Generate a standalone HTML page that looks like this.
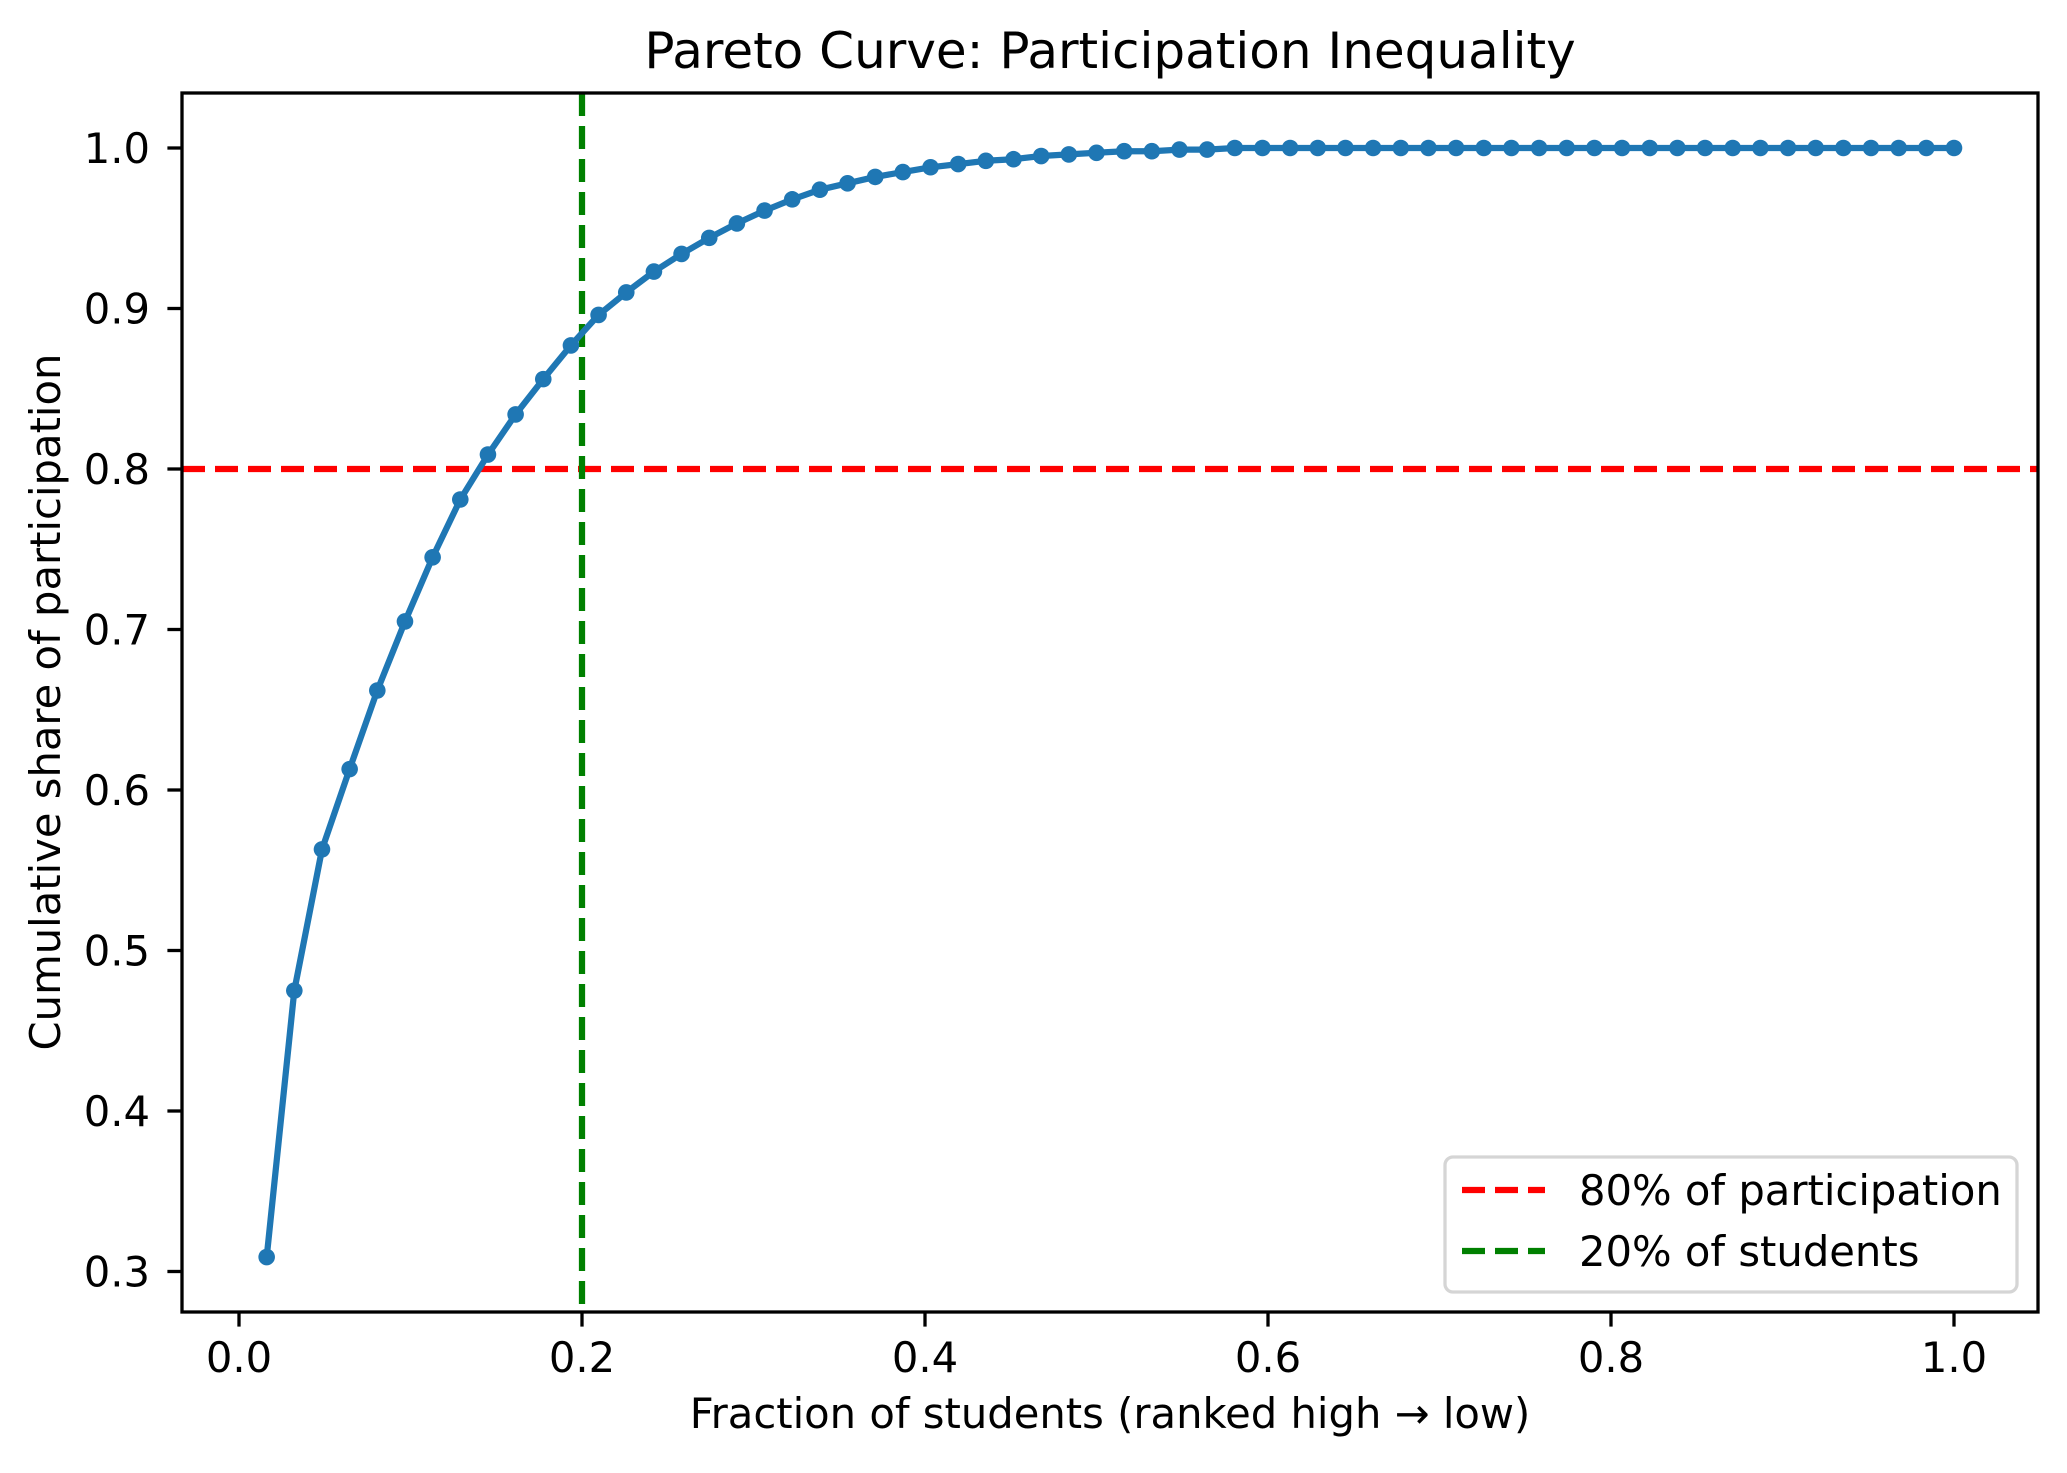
<!DOCTYPE html>
<html><head><meta charset="utf-8"><style>
html,body{margin:0;padding:0;background:#fff;}
svg text{font-family:"DejaVu Sans","Liberation Sans",sans-serif;fill:#000;}
</style></head><body>
<svg id="chart" width="2067" height="1468" viewBox="0 0 2067 1468" xmlns="http://www.w3.org/2000/svg">
<rect width="2067" height="1468" fill="#fff"/>
<text x="1110" y="68" font-size="50" text-anchor="middle">Pareto Curve: Participation Inequality</text>
<g id="plot"></g>
<text x="1110" y="1428" font-size="41.7" text-anchor="middle">Fraction of students (ranked high → low)</text>
<text transform="translate(60,702) rotate(-90)" font-size="41.7" text-anchor="middle">Cumulative share of participation</text>
<g>
<rect x="1445" y="1157" width="572" height="135" rx="8" fill="#fff" stroke="#d5d5d5" stroke-width="3.3"/>
<line x1="1462" y1="1190" x2="1545" y2="1190" stroke="#ff0000" stroke-width="6.25" stroke-dasharray="23,10"/>
<text x="1579" y="1205" font-size="41.7">80% of participation</text>
<line x1="1462" y1="1251" x2="1545" y2="1251" stroke="#008000" stroke-width="6.25" stroke-dasharray="23,10"/>
<text x="1579" y="1266" font-size="41.7">20% of students</text>
</g>
</svg>
<script>
const shares = [0.309,0.475,0.563,0.613,0.662,0.705,0.745,0.781,0.809,0.834,0.856,0.877,0.896,0.910,0.923,0.934,0.944,0.953,0.961,0.968,0.974,0.978,0.982,0.985,0.988,0.990,0.992,0.993,0.995,0.996,0.997,0.998,0.998,0.999,0.999,1,1,1,1,1,1,1,1,1,1,1,1,1,1,1,1,1,1,1,1,1,1,1,1,1,1,1];
const xTicks = [0.0,0.2,0.4,0.6,0.8,1.0];
const yTicks = [0.3,0.4,0.5,0.6,0.7,0.8,0.9,1.0];
const xTickLabels = ["0.0","0.2","0.4","0.6","0.8","1.0"];
const yTickLabels = ["0.3","0.4","0.5","0.6","0.7","0.8","0.9","1.0"];
const refShare = 0.8;
const refFraction = 0.2;

const L=182,R=2038,T=93,B=1312;
function xs(v){return 239+v*1715;}
function ys(v){return 148+(1-v)*1605;}
const NS="http://www.w3.org/2000/svg";
const g=document.getElementById('plot');
function mk(tag,attrs,parent){const e=document.createElementNS(NS,tag);for(const k in attrs)e.setAttribute(k,attrs[k]);(parent||g).appendChild(e);return e;}

let hl=mk('line',{x1:L,x2:R,y1:ys(refShare),y2:ys(refShare),stroke:'#ff0000','stroke-width':6.25,'stroke-dasharray':'23,10'});


let vl=mk('line',{x1:xs(refFraction),x2:xs(refFraction),y1:T,y2:B,stroke:'#008000','stroke-width':6.25,'stroke-dasharray':'23,10'});



const n=shares.length;
const pts=shares.map((v,i)=>xs((i+1)/n).toFixed(1)+','+ys(v).toFixed(1)).join(' ');
let pl=mk('polyline',{points:pts,fill:'none',stroke:'#1f77b4','stroke-width':6.25,'stroke-linejoin':'round'});


shares.forEach((v,i)=>{
  const c=mk('circle',{cx:xs((i+1)/n),cy:ys(v),r:8.3,fill:'#1f77b4'});
  
  
});

let fr=mk('rect',{x:L,y:T,width:R-L,height:B-T,fill:'none',stroke:'#000','stroke-width':3.3});



xTicks.forEach((v,i)=>{
  const x=xs(v);
  const t=mk('line',{x1:x,x2:x,y1:B,y2:B+14.6,stroke:'#000','stroke-width':3.3});
  
  
  const tx=mk('text',{x:x,y:1372,'font-size':41.7,'text-anchor':'middle'});
  tx.textContent=xTickLabels[i];
  
  
});
yTicks.forEach((v,i)=>{
  const y=ys(v);
  const t=mk('line',{x1:L-14.6,x2:L,y1:y,y2:y,stroke:'#000','stroke-width':3.3});
  
  
  const tx=mk('text',{x:150,y:y+15,'font-size':41.7,'text-anchor':'end'});
  tx.textContent=yTickLabels[i];
  
  
});
</script>
</body></html>
